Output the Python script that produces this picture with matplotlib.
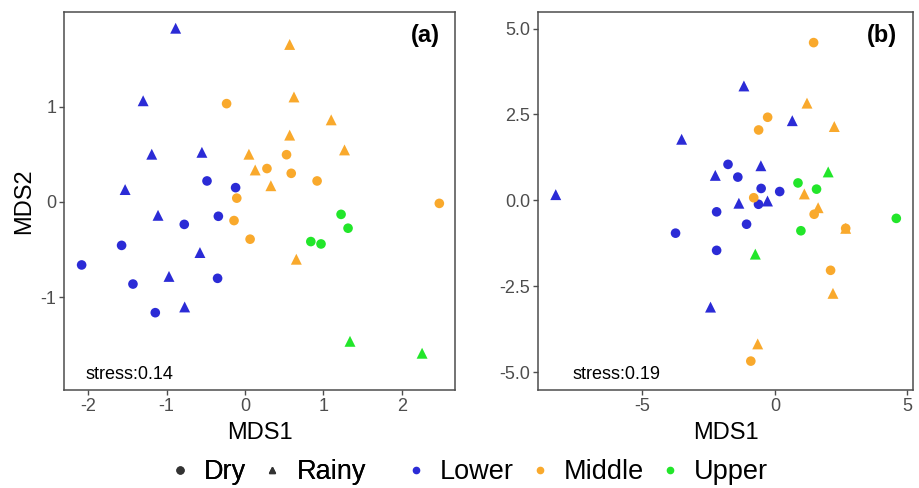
import matplotlib
matplotlib.use("Agg")
import matplotlib.pyplot as plt
from matplotlib.lines import Line2D

plt.rcParams['font.family'] = ['Liberation Sans', 'DejaVu Sans']
plt.rcParams['axes.unicode_minus'] = False

# couleurs des groupes
colors = {"Lower": "#2B2BD6", "Middle": "#F9A92C", "Upper": "#22E62A"}
markers = {"Dry": "o", "Rainy": "^"}

# ---- panel (a) ----
a_x = [-0.885, -1.30, -1.19, -0.55, -0.485, -0.12, -1.53, -1.11, -0.775, -0.34,
       -1.575, -0.575, -2.085, -0.97, -0.35, -1.43, -1.145, -0.77,
       -0.235, 0.05, 0.13, -0.105, -0.14, 0.065, 0.57, 0.625, 1.10, 0.57,
       1.27, 0.53, 0.28, 0.59, 0.92, 0.33, 2.48, 0.655,
       1.226, 1.315, 0.84, 0.97, 1.34, 2.26]
a_y = [1.82, 1.06, 0.50, 0.52, 0.22, 0.15, 0.13, -0.14, -0.235, -0.15,
       -0.455, -0.53, -0.66, -0.78, -0.80, -0.86, -1.16, -1.10,
       1.03, 0.50, 0.335, 0.04, -0.195, -0.39, 1.65, 1.10, 0.86, 0.70,
       0.545, 0.495, 0.35, 0.30, 0.22, 0.17, -0.015, -0.60,
       -0.13, -0.275, -0.415, -0.44, -1.46, -1.585]
a_zone = ["Lower"] * 18 + ["Middle"] * 18 + ["Upper"] * 6
a_season = ["Rainy", "Rainy", "Rainy", "Rainy", "Dry", "Dry", "Rainy", "Rainy", "Dry", "Dry",
            "Dry", "Rainy", "Dry", "Rainy", "Dry", "Dry", "Dry", "Rainy",
            "Dry", "Rainy", "Rainy", "Dry", "Dry", "Dry", "Rainy", "Rainy", "Rainy", "Rainy",
            "Rainy", "Dry", "Dry", "Dry", "Dry", "Rainy", "Dry", "Rainy",
            "Dry", "Dry", "Dry", "Dry", "Rainy", "Rainy"]

# ---- panel (b) ----
b_x = [-8.27, -3.52, -3.75, -2.43, -1.17, 0.655, -1.77, -0.53, -2.25, -1.40,
       -0.52, 0.18, -1.36, -0.62, -0.28, -2.20, -1.07, -2.20,
       1.46, 1.21, -0.275, 2.24, -0.615, 1.11, -0.80, 1.63, 1.48, 2.67,
       2.67, 2.10, 2.19, -0.65, -0.91,
       2.01, 0.87, 1.57, 4.58, 0.98, -0.74]
b_y = [0.17, 1.78, -0.95, -3.10, 3.33, 2.32, 1.05, 1.01, 0.73, 0.68,
       0.35, 0.26, -0.08, -0.11, -0.015, -0.33, -0.69, -1.45,
       4.59, 2.83, 2.42, 2.15, 2.05, 0.19, 0.08, -0.21, -0.40, -0.81,
       -0.81, -2.03, -2.70, -4.17, -4.67,
       0.83, 0.51, 0.33, -0.52, -0.88, -1.56]
b_zone = ["Lower"] * 18 + ["Middle"] * 15 + ["Upper"] * 6
b_season = ["Rainy", "Rainy", "Dry", "Rainy", "Rainy", "Rainy", "Dry", "Rainy", "Rainy", "Dry",
            "Dry", "Dry", "Rainy", "Dry", "Rainy", "Dry", "Dry", "Dry",
            "Dry", "Rainy", "Dry", "Rainy", "Dry", "Rainy", "Dry", "Rainy", "Dry", "Rainy",
            "Dry", "Dry", "Rainy", "Rainy", "Dry",
            "Rainy", "Dry", "Dry", "Dry", "Dry", "Rainy"]

fig = plt.figure(figsize=(9.2, 4.88), dpi=100)
ax_a = fig.add_axes([64 / 920, 1 - 390 / 488, 391 / 920, 378 / 488])
ax_b = fig.add_axes([538 / 920, 1 - 390 / 488, 375 / 920, 378 / 488])


def draw(ax, xs, ys, zones, seasons):
    for x, y, z, s in zip(xs, ys, zones, seasons):
        size = 48 if s == "Dry" else 62
        ax.scatter(x, y, c=colors[z], marker=markers[s], s=size,
                   edgecolors="none", zorder=3)
    for side in ax.spines.values():
        side.set_color("#4D4D4D")
        side.set_linewidth(1.1)
    ax.tick_params(direction="out", length=3.5, width=1, color="#4D4D4D",
                   labelcolor="#4D4D4D", labelsize=13, pad=2)
    ax.set_xlabel("MDS1", fontsize=17, labelpad=5)


draw(ax_a, a_x, a_y, a_zone, a_season)
ax_a.set_xlim(-2.31, 2.68)
ax_a.set_ylim(-1.97, 1.99)
ax_a.set_xticks([-2, -1, 0, 1, 2])
ax_a.set_yticks([-1, 0, 1])
ax_a.set_ylabel("MDS2", fontsize=17, labelpad=4)
ax_a.text(0.054, 0.04, "stress:0.14", transform=ax_a.transAxes,
          fontsize=13, va="center", ha="left")
ax_a.text(0.962, 0.939, "(a)", transform=ax_a.transAxes,
          fontsize=17, fontweight="bold", va="center", ha="right")

draw(ax_b, b_x, b_y, b_zone, b_season)
ax_b.set_xlim(-8.94, 5.21)
ax_b.set_ylim(-5.51, 5.48)
ax_b.set_xticks([-5, 0, 5])
ax_b.set_yticks([-5.0, -2.5, 0.0, 2.5, 5.0])
ax_b.set_yticklabels(["-5.0", "-2.5", "0.0", "2.5", "5.0"])
ax_b.text(0.093, 0.04, "stress:0.19", transform=ax_b.transAxes,
          fontsize=13, va="center", ha="left")
ax_b.text(0.957, 0.939, "(b)", transform=ax_b.transAxes,
          fontsize=17, fontweight="bold", va="center", ha="right")

# legendes en bas
shape_handles = [Line2D([], [], ls="none", marker=markers[k], color="#333333",
                        markersize=5, label=k) for k in markers]
color_handles = [Line2D([], [], ls="none", marker="o", color=colors[k],
                        markersize=4.5, label=k) for k in colors]
leg_kw = dict(frameon=False, fontsize=19.5, handlelength=1.0, handletextpad=0.4,
              columnspacing=0.45, borderpad=0, borderaxespad=0)
leg1 = fig.legend(handles=shape_handles, loc="center left",
                  bbox_to_anchor=(166 / 920, 1 - 472 / 488), ncol=2, **leg_kw)
fig.add_artist(leg1)
fig.legend(handles=color_handles, loc="center left",
           bbox_to_anchor=(402 / 920, 1 - 472 / 488), ncol=3, **leg_kw)

fig.savefig("out.png", dpi=100)
